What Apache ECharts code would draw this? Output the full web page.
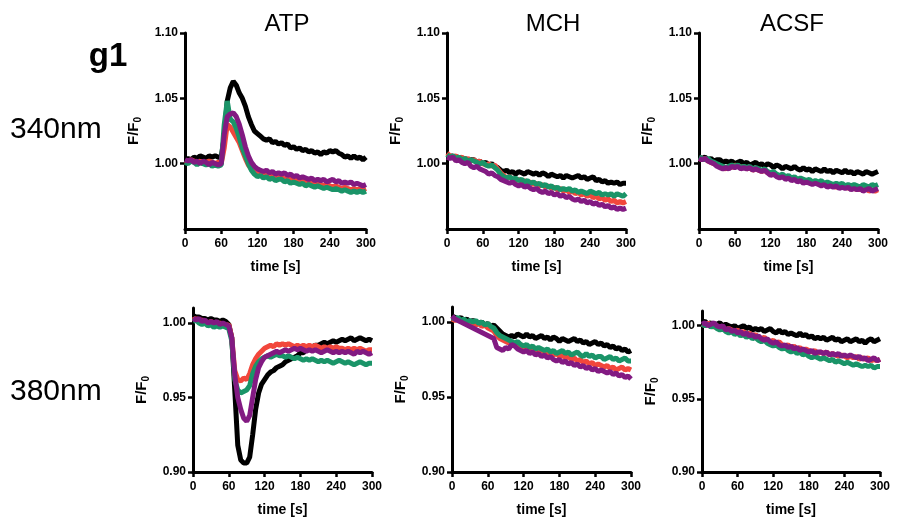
<!DOCTYPE html>
<html>
<head>
<meta charset="utf-8">
<script src="https://cdn.jsdelivr.net/npm/echarts@6/dist/echarts.min.js"></script>
<style>
  html, body { margin: 0; padding: 0; background: #fff; }
  #main { width: 907px; height: 518px; }
</style>
</head>
<body>
<div id="main"></div>
<script>
// time points (s)
const time = [
  0, 5, 10, 15, 20, 25, 30, 35, 40, 45,
  50, 55, 60, 65, 70, 75, 80, 85, 90, 95,
  100, 105, 110, 115, 120, 125, 130, 135, 140, 145,
  150, 155, 160, 165, 170, 175, 180, 185, 190, 195,
  200, 205, 210, 215, 220, 225, 230, 235, 240, 245,
  250, 255, 260, 265, 270, 275, 280, 285, 290, 295,
  300
]
const stimuli = ['ATP', 'MCH', 'ACSF']
const wavelengths = ['340nm', '380nm']
const traceColors = ['#000000', '#f2473c', '#1a9468', '#821a82']

// ---- 340 nm, ATP ----
const atp340Black = [
  1.003, 1.004, 1.003, 1.005, 1.004, 1.006, 1.005, 1.004, 1.006, 1.005,
  1.006, 1.005, 1.005, 1.020, 1.048, 1.058, 1.063, 1.060, 1.054, 1.050,
  1.044, 1.036, 1.030, 1.025, 1.023, 1.021, 1.019, 1.018, 1.019, 1.016,
  1.017, 1.015, 1.016, 1.014, 1.015, 1.012, 1.013, 1.011, 1.012, 1.010,
  1.011, 1.009, 1.010, 1.008, 1.009, 1.007, 1.009, 1.008, 1.010, 1.009,
  1.010, 1.008, 1.007, 1.005, 1.006, 1.004, 1.006, 1.004, 1.005, 1.003,
  1.005
]
const atp340Red = [
  1.002, 1.001, 1.003, 1.002, 1.001, 1.002, 1.000, 1.001, 1.002, 1.001,
  1.000, 1.001, 1.000, 1.012, 1.030, 1.028, 1.024, 1.020, 1.016, 1.010,
  1.004, 0.999, 0.996, 0.994, 0.993, 0.992, 0.993, 0.991, 0.992, 0.990,
  0.991, 0.989, 0.990, 0.988, 0.989, 0.988, 0.987, 0.988, 0.986, 0.987,
  0.986, 0.985, 0.986, 0.984, 0.985, 0.984, 0.983, 0.984, 0.983, 0.982,
  0.983, 0.982, 0.981, 0.982, 0.981, 0.980, 0.981, 0.980, 0.981, 0.980,
  0.981
]
const atp340Green = [
  1.001, 1.000, 1.002, 1.001, 0.999, 1.001, 1.000, 0.999, 1.000, 0.998,
  0.999, 0.998, 0.999, 1.030, 1.048, 1.034, 1.032, 1.027, 1.020, 1.012,
  1.006, 1.000, 0.995, 0.992, 0.990, 0.991, 0.989, 0.990, 0.988, 0.989,
  0.987, 0.988, 0.988, 0.986, 0.987, 0.985, 0.986, 0.985, 0.984, 0.985,
  0.983, 0.984, 0.983, 0.982, 0.983, 0.982, 0.981, 0.982, 0.981, 0.980,
  0.981, 0.980, 0.979, 0.980, 0.979, 0.978, 0.979, 0.978, 0.979, 0.978,
  0.979
]
const atp340Purple = [
  1.003, 1.002, 1.003, 1.001, 1.002, 1.000, 1.002, 1.001, 0.999, 1.001,
  1.000, 0.999, 1.000, 1.022, 1.036, 1.038, 1.039, 1.036, 1.030, 1.022,
  1.013, 1.006, 1.001, 0.998, 0.996, 0.995, 0.994, 0.995, 0.993, 0.994,
  0.992, 0.993, 0.992, 0.993, 0.991, 0.992, 0.990, 0.991, 0.989, 0.990,
  0.989, 0.988, 0.989, 0.987, 0.988, 0.987, 0.988, 0.986, 0.987, 0.988,
  0.986, 0.987, 0.985, 0.986, 0.985, 0.986, 0.984, 0.985, 0.984, 0.983,
  0.984
]

// ---- 340 nm, MCH ----
const mch340Black = [
  1.006, 1.005, 1.006, 1.004, 1.005, 1.003, 1.004, 1.002, 1.003, 1.003,
  1.001, 1.002, 1.000, 1.001, 0.999, 1.000, 0.998, 0.997, 0.995, 0.994,
  0.995, 0.993, 0.994, 0.992, 0.994, 0.993, 0.992, 0.994, 0.993, 0.992,
  0.993, 0.991, 0.993, 0.992, 0.990, 0.992, 0.991, 0.990, 0.991, 0.989,
  0.991, 0.990, 0.989, 0.990, 0.991, 0.989, 0.990, 0.988, 0.989, 0.990,
  0.987, 0.988, 0.986, 0.987, 0.985, 0.986, 0.985, 0.986, 0.984, 0.985,
  0.985
]
const mch340Red = [
  1.008, 1.006, 1.005, 1.006, 1.004, 1.005, 1.003, 1.004, 1.002, 1.003,
  1.001, 1.002, 1.000, 0.999, 1.000, 0.998, 0.999, 0.996, 0.993, 0.991,
  0.989, 0.990, 0.988, 0.987, 0.988, 0.986, 0.987, 0.985, 0.986, 0.984,
  0.985, 0.983, 0.984, 0.982, 0.983, 0.981, 0.982, 0.980, 0.981, 0.979,
  0.980, 0.978, 0.979, 0.977, 0.978, 0.976, 0.977, 0.975, 0.976, 0.974,
  0.975, 0.973, 0.974, 0.972, 0.973, 0.971, 0.972, 0.970, 0.971, 0.970,
  0.971
]
const mch340Green = [
  1.007, 1.005, 1.006, 1.004, 1.005, 1.003, 1.004, 1.002, 1.003, 1.002,
  1.001, 1.000, 1.001, 0.999, 0.998, 0.999, 0.997, 0.995, 0.992, 0.990,
  0.989, 0.990, 0.988, 0.989, 0.987, 0.988, 0.986, 0.987, 0.985, 0.986,
  0.984, 0.985, 0.983, 0.984, 0.982, 0.983, 0.981, 0.982, 0.980, 0.981,
  0.980, 0.981, 0.979, 0.980, 0.978, 0.979, 0.978, 0.977, 0.979, 0.978,
  0.977, 0.978, 0.976, 0.977, 0.976, 0.977, 0.975, 0.977, 0.976, 0.975,
  0.977
]
const mch340Purple = [
  1.005, 1.004, 1.005, 1.002, 1.003, 1.001, 1.000, 1.001, 0.998, 0.997,
  0.998, 0.996, 0.995, 0.994, 0.992, 0.993, 0.991, 0.990, 0.988, 0.987,
  0.986, 0.985, 0.986, 0.984, 0.983, 0.984, 0.982, 0.983, 0.981, 0.980,
  0.981, 0.979, 0.978, 0.979, 0.977, 0.978, 0.976, 0.977, 0.975, 0.976,
  0.974, 0.975, 0.973, 0.972, 0.973, 0.971, 0.972, 0.970, 0.971, 0.969,
  0.970, 0.968, 0.969, 0.967, 0.968, 0.966, 0.967, 0.965, 0.966, 0.965,
  0.966
]

// ---- 340 nm, ACSF ----
const acsf340Black = [
  1.005, 1.004, 1.005, 1.003, 1.004, 1.002, 1.003, 1.003, 1.001, 1.002,
  1.001, 1.002, 1.000, 1.001, 1.002, 1.000, 1.001, 0.999, 1.000, 1.001,
  0.999, 1.000, 0.998, 1.000, 0.999, 0.997, 0.999, 0.998, 0.996, 0.998,
  0.997, 0.996, 0.998, 0.996, 0.995, 0.997, 0.995, 0.996, 0.994, 0.996,
  0.995, 0.994, 0.996, 0.994, 0.995, 0.993, 0.995, 0.994, 0.993, 0.995,
  0.993, 0.994, 0.992, 0.994, 0.993, 0.992, 0.994, 0.993, 0.992, 0.993,
  0.994
]
const acsf340Red = [
  1.004, 1.003, 1.004, 1.002, 1.001, 1.000, 0.999, 0.998, 0.997, 0.996,
  0.998, 0.997, 0.999, 0.998, 0.997, 0.998, 0.996, 0.997, 0.995, 0.996,
  0.995, 0.994, 0.995, 0.993, 0.992, 0.993, 0.991, 0.990, 0.991, 0.989,
  0.990, 0.988, 0.989, 0.987, 0.988, 0.986, 0.987, 0.986, 0.985, 0.986,
  0.985, 0.984, 0.985, 0.983, 0.984, 0.983, 0.982, 0.983, 0.982, 0.983,
  0.981, 0.982, 0.981, 0.980, 0.981, 0.980, 0.981, 0.979, 0.980, 0.979,
  0.980
]
const acsf340Green = [
  1.005, 1.004, 1.003, 1.004, 1.002, 1.001, 1.000, 0.999, 0.998, 0.997,
  0.998, 0.999, 0.998, 0.999, 0.997, 0.998, 0.997, 0.998, 0.996, 0.997,
  0.996, 0.995, 0.996, 0.994, 0.993, 0.994, 0.992, 0.991, 0.992, 0.990,
  0.991, 0.989, 0.990, 0.988, 0.989, 0.988, 0.987, 0.988, 0.986, 0.987,
  0.986, 0.987, 0.985, 0.986, 0.985, 0.984, 0.985, 0.984, 0.985, 0.983,
  0.984, 0.983, 0.984, 0.983, 0.982, 0.984, 0.983, 0.982, 0.984, 0.983,
  0.984
]
const acsf340Purple = [
  1.004, 1.003, 1.004, 1.002, 1.001, 1.000, 0.998, 0.997, 0.996, 0.997,
  0.996, 0.998, 0.997, 0.998, 0.996, 0.997, 0.996, 0.997, 0.995, 0.996,
  0.995, 0.994, 0.995, 0.993, 0.991, 0.992, 0.990, 0.989, 0.990, 0.988,
  0.989, 0.987, 0.988, 0.986, 0.987, 0.985, 0.986, 0.985, 0.984, 0.985,
  0.984, 0.983, 0.984, 0.982, 0.983, 0.982, 0.983, 0.981, 0.982, 0.981,
  0.982, 0.980, 0.981, 0.980, 0.981, 0.979, 0.980, 0.981, 0.979, 0.980,
  0.981
]

// ---- 380 nm, ATP ----
const atp380Black = [
  1.005, 1.004, 1.004, 1.003, 1.003, 1.002, 1.003, 1.002, 1.002, 1.001,
  1.002, 1.001, 0.999, 0.990, 0.955, 0.918, 0.908, 0.906, 0.906, 0.910,
  0.925, 0.942, 0.953, 0.959, 0.962, 0.965, 0.967, 0.968, 0.970, 0.971,
  0.972, 0.974, 0.975, 0.976, 0.977, 0.978, 0.980, 0.980, 0.982, 0.983,
  0.984, 0.985, 0.985, 0.986, 0.987, 0.986, 0.987, 0.988, 0.987, 0.988,
  0.989, 0.988, 0.989, 0.990, 0.988, 0.989, 0.990, 0.989, 0.988, 0.989,
  0.988
]
const atp380Red = [
  1.002, 1.003, 1.001, 1.002, 1.001, 1.000, 1.001, 1.000, 0.999, 1.000,
  0.999, 0.998, 0.999, 0.990, 0.968, 0.962, 0.961, 0.963, 0.962, 0.966,
  0.972, 0.976, 0.979, 0.981, 0.983, 0.984, 0.985, 0.984, 0.986, 0.985,
  0.986, 0.985, 0.986, 0.985, 0.984, 0.985, 0.984, 0.985, 0.984, 0.985,
  0.984, 0.985, 0.984, 0.983, 0.984, 0.983, 0.984, 0.983, 0.984, 0.983,
  0.983, 0.982, 0.983, 0.982, 0.983, 0.982, 0.983, 0.982, 0.981, 0.982,
  0.982
]
const atp380Green = [
  1.001, 1.002, 1.000, 0.999, 1.000, 0.998, 0.999, 0.997, 0.998, 0.997,
  0.998, 0.997, 0.996, 0.988, 0.962, 0.955, 0.953, 0.954, 0.955, 0.958,
  0.966, 0.971, 0.974, 0.976, 0.977, 0.978, 0.977, 0.978, 0.979, 0.978,
  0.978, 0.977, 0.978, 0.977, 0.976, 0.977, 0.976, 0.975, 0.976, 0.975,
  0.976, 0.975, 0.974, 0.975, 0.974, 0.975, 0.974, 0.973, 0.974, 0.975,
  0.974, 0.973, 0.974, 0.973, 0.972, 0.973, 0.974, 0.973, 0.972, 0.973,
  0.973
]
const atp380Purple = [
  1.003, 1.002, 1.003, 1.001, 1.002, 1.000, 1.001, 1.000, 1.001, 0.999,
  1.000, 0.999, 0.998, 0.990, 0.965, 0.950, 0.942, 0.936, 0.934, 0.938,
  0.950, 0.962, 0.970, 0.974, 0.977, 0.978, 0.979, 0.980, 0.981, 0.980,
  0.981, 0.982, 0.981, 0.982, 0.983, 0.982, 0.983, 0.982, 0.981, 0.982,
  0.981, 0.982, 0.981, 0.980, 0.981, 0.982, 0.981, 0.980, 0.981, 0.980,
  0.981, 0.980, 0.981, 0.980, 0.979, 0.981, 0.980, 0.981, 0.980, 0.979,
  0.980
]

// ---- 380 nm, MCH ----
const mch380Black = [
  1.004, 1.003, 1.002, 1.003, 1.001, 1.002, 1.000, 1.001, 1.000, 0.999,
  1.000, 0.998, 0.999, 0.997, 0.998, 0.996, 0.994, 0.992, 0.991, 0.990,
  0.991, 0.990, 0.992, 0.991, 0.990, 0.992, 0.990, 0.991, 0.989, 0.990,
  0.991, 0.989, 0.990, 0.988, 0.990, 0.989, 0.987, 0.989, 0.988, 0.987,
  0.988, 0.989, 0.987, 0.988, 0.986, 0.987, 0.985, 0.986, 0.987, 0.985,
  0.986, 0.984, 0.985, 0.983, 0.984, 0.982, 0.983, 0.981, 0.982, 0.980,
  0.981
]
const mch380Red = [
  1.002, 1.001, 1.002, 1.000, 1.001, 0.999, 1.000, 0.999, 0.998, 0.999,
  0.997, 0.998, 0.996, 0.995, 0.994, 0.991, 0.989, 0.988, 0.987, 0.986,
  0.986, 0.985, 0.984, 0.985, 0.983, 0.982, 0.983, 0.981, 0.982, 0.980,
  0.981, 0.980, 0.979, 0.980, 0.978, 0.979, 0.977, 0.978, 0.976, 0.977,
  0.975, 0.976, 0.974, 0.975, 0.973, 0.974, 0.972, 0.973, 0.971, 0.972,
  0.971, 0.970, 0.971, 0.969, 0.970, 0.968, 0.969, 0.970, 0.968, 0.969,
  0.968
]
const mch380Green = [
  1.003, 1.002, 1.003, 1.001, 1.002, 1.000, 1.001, 1.000, 1.001, 0.999,
  1.000, 0.998, 0.999, 0.997, 0.996, 0.993, 0.991, 0.990, 0.989, 0.988,
  0.987, 0.986, 0.987, 0.985, 0.984, 0.985, 0.983, 0.984, 0.982, 0.983,
  0.982, 0.981, 0.982, 0.980, 0.981, 0.979, 0.980, 0.981, 0.979, 0.980,
  0.978, 0.979, 0.980, 0.978, 0.977, 0.979, 0.977, 0.978, 0.976, 0.977,
  0.977, 0.975, 0.976, 0.977, 0.975, 0.976, 0.974, 0.975, 0.976, 0.974,
  0.974
]
const mch380Purple = [
  1.004, 1.002, 1.001, 1.000, 0.999, 0.998, 0.997, 0.996, 0.995, 0.994,
  0.993, 0.992, 0.991, 0.990, 0.989, 0.983, 0.982, 0.981, 0.983, 0.982,
  0.985, 0.984, 0.982, 0.981, 0.980, 0.981, 0.979, 0.980, 0.978, 0.979,
  0.977, 0.978, 0.976, 0.977, 0.975, 0.974, 0.975, 0.973, 0.974, 0.972,
  0.973, 0.971, 0.972, 0.970, 0.971, 0.969, 0.970, 0.968, 0.969, 0.967,
  0.968, 0.967, 0.966, 0.967, 0.965, 0.966, 0.964, 0.965, 0.963, 0.964,
  0.962
]

// ---- 380 nm, ACSF ----
const acsf380Black = [
  1.002, 1.003, 1.001, 1.002, 1.000, 1.001, 1.002, 1.000, 1.001, 1.000,
  0.999, 1.000, 0.998, 0.999, 1.000, 0.998, 0.999, 0.997, 0.998, 0.997,
  0.998, 0.996, 0.997, 0.998, 0.996, 0.995, 0.997, 0.995, 0.996, 0.994,
  0.995, 0.994, 0.993, 0.995, 0.993, 0.994, 0.992, 0.993, 0.991, 0.992,
  0.991, 0.992, 0.990, 0.991, 0.992, 0.990, 0.991, 0.989, 0.990, 0.991,
  0.989, 0.990, 0.991, 0.989, 0.990, 0.988, 0.990, 0.991, 0.989, 0.990,
  0.991
]
const acsf380Red = [
  1.001, 1.000, 1.002, 1.000, 0.999, 1.000, 0.998, 0.999, 0.997, 0.998,
  0.997, 0.996, 0.997, 0.995, 0.996, 0.994, 0.995, 0.993, 0.994, 0.992,
  0.991, 0.992, 0.990, 0.989, 0.990, 0.988, 0.989, 0.987, 0.986, 0.987,
  0.985, 0.986, 0.984, 0.985, 0.983, 0.984, 0.983, 0.982, 0.983, 0.981,
  0.982, 0.981, 0.982, 0.980, 0.981, 0.980, 0.979, 0.980, 0.979, 0.978,
  0.979, 0.978, 0.979, 0.977, 0.978, 0.977, 0.978, 0.976, 0.977, 0.976,
  0.977
]
const acsf380Green = [
  1.001, 1.000, 1.001, 0.999, 1.000, 0.998, 0.997, 0.998, 0.996, 0.995,
  0.996, 0.994, 0.995, 0.993, 0.994, 0.992, 0.993, 0.991, 0.992, 0.990,
  0.989, 0.990, 0.988, 0.987, 0.986, 0.987, 0.985, 0.984, 0.985, 0.983,
  0.982, 0.983, 0.981, 0.982, 0.980, 0.981, 0.979, 0.978, 0.979, 0.978,
  0.977, 0.978, 0.977, 0.976, 0.977, 0.975, 0.976, 0.975, 0.974, 0.975,
  0.974, 0.973, 0.974, 0.973, 0.972, 0.973, 0.972, 0.973, 0.971, 0.972,
  0.972
]
const acsf380Purple = [
  1.001, 1.002, 1.000, 1.001, 1.002, 1.000, 0.999, 1.000, 0.997, 0.998,
  0.996, 0.997, 0.995, 0.996, 0.994, 0.995, 0.993, 0.994, 0.992, 0.993,
  0.991, 0.990, 0.991, 0.989, 0.988, 0.989, 0.987, 0.986, 0.987, 0.985,
  0.986, 0.984, 0.985, 0.983, 0.984, 0.983, 0.982, 0.983, 0.981, 0.982,
  0.982, 0.981, 0.982, 0.980, 0.981, 0.980, 0.981, 0.979, 0.980, 0.979,
  0.980, 0.979, 0.978, 0.979, 0.977, 0.978, 0.976, 0.977, 0.978, 0.976,
  0.977
]

const xTicks = [0, 60, 120, 180, 240, 300]
const topYTicks = [1.00, 1.05, 1.10]
const bottomYTicks = [0.90, 0.95, 1.00]

// panel layout, row by row
const panels = [
  { box: { left: 185, top: 33, width: 181, height: 196 }, y: [0.95, 1.10], ticks: topYTicks, traces: [atp340Black, atp340Red, atp340Green, atp340Purple] },
  { box: { left: 447, top: 33, width: 179, height: 196 }, y: [0.95, 1.10], ticks: topYTicks, traces: [mch340Black, mch340Red, mch340Green, mch340Purple] },
  { box: { left: 699, top: 33, width: 179, height: 196 }, y: [0.95, 1.10], ticks: topYTicks, traces: [acsf340Black, acsf340Red, acsf340Green, acsf340Purple] },
  { box: { left: 193, top: 308, width: 179, height: 164 }, y: [0.90, 1.01], ticks: bottomYTicks, traces: [atp380Black, atp380Red, atp380Green, atp380Purple] },
  { box: { left: 452, top: 307, width: 179, height: 165 }, y: [0.90, 1.01], ticks: bottomYTicks, traces: [mch380Black, mch380Red, mch380Green, mch380Purple] },
  { box: { left: 702, top: 311, width: 178, height: 162 }, y: [0.90, 1.01], ticks: bottomYTicks, traces: [acsf380Black, acsf380Red, acsf380Green, acsf380Purple] }
]

const FONT = '"Liberation Sans", Arial, sans-serif'
const axisLine = { show: true, onZero: false, lineStyle: { color: '#000', width: 3 } }

const grid = []
const xAxis = []
const yAxis = []
const series = []

panels.forEach((p, k) => {
  grid.push(Object.assign({ containLabel: false }, p.box))
  xAxis.push({
    type: 'value', gridIndex: k, min: 0, max: 300, interval: 60,
    axisLine: axisLine,
    axisTick: { show: true, length: 5, lineStyle: { color: '#000', width: 2.5 }, customValues: xTicks },
    axisLabel: { customValues: xTicks, margin: 9, color: '#000', fontSize: 12, fontWeight: 'bold', fontFamily: FONT },
    splitLine: { show: false },
    name: 'time [s]', nameLocation: 'middle', nameGap: 31,
    nameTextStyle: { color: '#000', fontSize: 14, fontWeight: 'bold', fontFamily: FONT }
  })
  yAxis.push({
    type: 'value', gridIndex: k, min: p.y[0], max: p.y[1],
    axisLine: axisLine,
    axisTick: { show: true, length: 5, lineStyle: { color: '#000', width: 2.5 }, customValues: p.ticks },
    axisLabel: {
      customValues: p.ticks, margin: 7, color: '#000', fontSize: 12, fontWeight: 'bold', fontFamily: FONT,
      formatter: v => v.toFixed(2)
    },
    splitLine: { show: false },
    name: '{a|F/F}{s|0}', nameLocation: 'middle', nameRotate: 90, nameGap: 42,
    nameTextStyle: {
      color: '#000', fontFamily: FONT,
      rich: {
        a: { fontSize: 15, fontWeight: 'bold', fontFamily: FONT, color: '#000' },
        s: { fontSize: 10, fontWeight: 'bold', fontFamily: FONT, color: '#000', padding: [8, 0, 0, 0] }
      }
    }
  })
  p.traces.forEach((vals, j) => {
    series.push({
      type: 'line', xAxisIndex: k, yAxisIndex: k,
      data: time.map((t, i) => [t, vals[i]]),
      showSymbol: false, silent: true,
      lineStyle: { color: traceColors[j], width: 5 },
      itemStyle: { color: traceColors[j] }
    })
  })
})

// column titles and row labels
const titleX = [287, 553, 792]
const graphic = stimuli.map((s, i) => ({
  type: 'text', x: titleX[i], y: 24,
  style: { text: s, font: '24px ' + FONT, fill: '#000', textAlign: 'center', textVerticalAlign: 'middle' }
}))
const rowY = [130, 392]
wavelengths.forEach((w, i) => {
  graphic.push({
    type: 'text', x: 10, y: rowY[i],
    style: { text: w, font: '30px ' + FONT, fill: '#000', textAlign: 'left', textVerticalAlign: 'middle' }
  })
})
graphic.push({
  type: 'text', x: 108, y: 57,
  style: { text: 'g1', font: 'bold 33px ' + FONT, fill: '#000', textAlign: 'center', textVerticalAlign: 'middle' }
})

const chart = echarts.init(document.getElementById('main'), null, { renderer: 'canvas' })
chart.setOption({
  animation: false,
  backgroundColor: '#fff',
  grid: grid,
  xAxis: xAxis,
  yAxis: yAxis,
  series: series,
  graphic: graphic
})
</script>
</body>
</html>
